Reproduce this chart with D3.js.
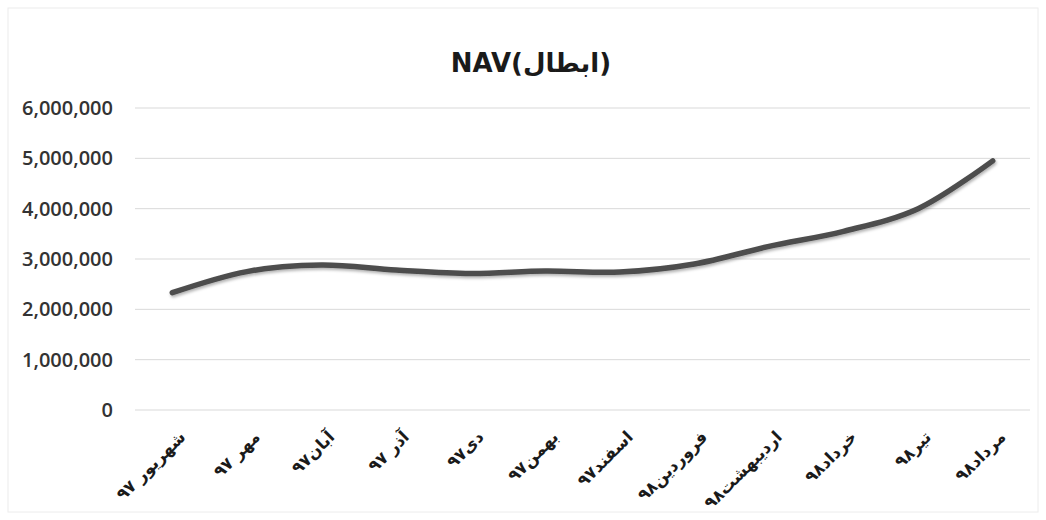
<!DOCTYPE html>
<html>
<head>
<meta charset="utf-8">
<script src="https://cdn.jsdelivr.net/npm/d3@7"></script>
<style>
  body { margin: 0; background: #fff; }
  .ytick text { font-family: "Open Sans", sans-serif; font-size: 20px; font-weight: 600; fill: #333; }
  .xtick text { font-family: "DejaVu Sans", sans-serif; font-size: 16.5px; font-weight: bold; fill: #1a1a1a; }
  .title { font-family: "DejaVu Sans", sans-serif; font-size: 26px; font-weight: bold; fill: #1a1a1a; }
</style>
</head>
<body>
<svg width="1046" height="520"></svg>
<script>
const months = ["شهریور ۹۷", "مهر ۹۷", "آبان۹۷", "آذر ۹۷", "دی۹۷", "بهمن۹۷",
	"اسفند۹۷", "فروردین۹۸", "اردیبهشت۹۸", "خرداد۹۸", "تیر۹۸", "مرداد۹۸"]

const nav = [2330000, 2750000, 2880000, 2780000, 2710000, 2760000,
	2740000, 2900000, 3250000, 3550000, 4000000, 4950000]

const yTicks = [0, 1000000, 2000000, 3000000, 4000000, 5000000, 6000000]

const svg = d3.select("svg")

// chart border
svg.append("rect")
	.attr("x", 8).attr("y", 8).attr("width", 1030).attr("height", 504)
	.style("fill", "none").style("stroke", "#ececec")

// title
svg.append("text")
	.attr("class", "title")
	.attr("x", 531)
	.attr("y", 72)
	.attr("text-anchor", "middle")
	.text("NAV(ابطال)")

const xScale = d3.scaleBand().domain(months).range([135, 1030])
const yScale = d3.scaleLinear().domain([0, 6000000]).range([410, 108])

// gridlines + y labels
const yAxis = svg.append("g").selectAll("g.ytick")
	.data(yTicks)
	.enter()
	.append("g")
	.attr("class", "ytick")
	.attr("transform", d => `translate(0, ${yScale(d)})`)

yAxis.append("line")
	.attr("x1", 135).attr("x2", 1030)
	.style("stroke", "#d9d9d9").style("stroke-width", 1)

yAxis.append("text")
	.attr("x", 113)
	.attr("y", 7)
	.attr("text-anchor", "end")
	.text(d => d3.format(",")(d))

// x labels, rotated
const xAxis = svg.append("g").selectAll("g.xtick")
	.data(months)
	.enter()
	.append("g")
	.attr("class", "xtick")
	.attr("transform", d => `translate(${xScale(d) + xScale.bandwidth() / 2 + 10}, 434) rotate(-45)`)

xAxis.append("text")
	.attr("text-anchor", "end")
	.attr("dy", "0.35em")
	.text(d => d)

// line
const lineGenerator = d3.line()
	.x((d, i) => xScale(months[i]) + xScale.bandwidth() / 2)
	.y(d => yScale(d))
	.curve(d3.curveCatmullRom.alpha(0.5))

const defs = svg.append("defs")
const shadow = defs.append("filter").attr("id", "shadow")
	.attr("x", "-5%").attr("y", "-20%").attr("width", "110%").attr("height", "140%")
shadow.append("feDropShadow")
	.attr("dx", 1).attr("dy", 2).attr("stdDeviation", 1.5)
	.attr("flood-color", "#000").attr("flood-opacity", 0.3)

svg.append("path")
	.datum(nav)
	.attr("d", lineGenerator)
	.style("fill", "none")
	.style("stroke", "#4d4d4d")
	.style("stroke-width", 5.5)
	.style("stroke-linecap", "round")
	.attr("filter", "url(#shadow)")
</script>
</body>
</html>
